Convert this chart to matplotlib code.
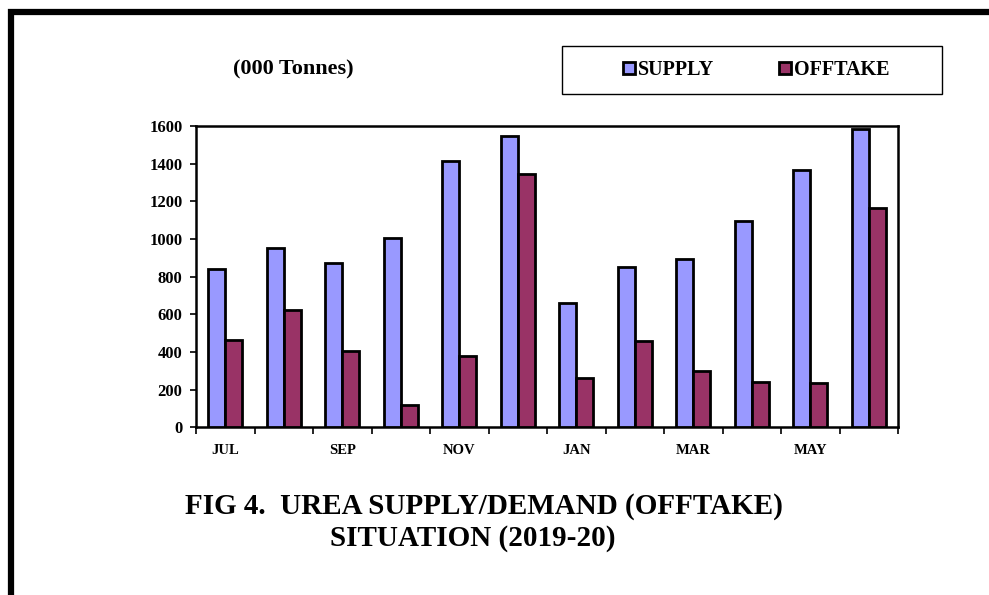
import matplotlib
matplotlib.use("Agg")
import matplotlib.pyplot as plt
from matplotlib.patches import Rectangle, Patch
import numpy as np

months = ["JUL", "AUG", "SEP", "OCT", "NOV", "DEC", "JAN", "FEB", "MAR", "APR", "MAY", "JUN"]
supply = [842, 950, 872, 1003, 1416, 1547, 658, 850, 892, 1094, 1365, 1582]
offtake = [463, 623, 405, 118, 376, 1343, 260, 458, 300, 239, 237, 1163]
shown_labels = ["JUL", "SEP", "NOV", "JAN", "MAR", "MAY"]

supply_color = "#9999FF"
offtake_color = "#993366"

plt.rcParams['font.family'] = ['Liberation Serif', 'DejaVu Serif']
plt.rcParams['font.weight'] = 'bold'

fig = plt.figure(figsize=(9.89, 5.95), dpi=100)
W, H = 989, 595

# outer frame
fig.patches.append(Rectangle((11 / W, -0.1), 1.2, (595 - 12) / H + 0.1, transform=fig.transFigure,
                             fill=False, edgecolor='black', linewidth=4.5, zorder=0))

ax = fig.add_axes([196 / W, (595 - 427.3) / H, (898 - 196) / W, (427.3 - 126) / H])
x = np.arange(len(months))
bw = 0.29
ax.bar(x + 0.5 - bw / 2, supply, bw, color=supply_color, edgecolor='black', linewidth=2, zorder=3)
ax.bar(x + 0.5 + bw / 2, offtake, bw, color=offtake_color, edgecolor='black', linewidth=2, zorder=3)

ax.set_xlim(0, len(months))
ax.set_ylim(0, 1600)
ax.set_yticks(range(0, 1601, 200))
ax.set_xticks(np.arange(0, len(months) + 1))
ax.set_xticklabels([])
ax.set_xticks(x + 0.5, minor=True)
ax.set_xticklabels([m if m in shown_labels else "" for m in months], minor=True)
ax.tick_params(axis='x', which='major', direction='out', length=5, width=1.2)
ax.tick_params(axis='x', which='minor', length=0, pad=12, labelsize=10.5)
ax.tick_params(axis='y', direction='out', length=4.3, width=1.2, labelsize=12, pad=5.5)
for lab in ax.get_xticklabels(minor=True) + ax.get_yticklabels():
    lab.set_fontweight('bold')
for s in ax.spines.values():
    s.set_linewidth(1.8)

fig.text(293 / W, 1 - 69 / H, "(000 Tonnes)", ha='center', va='center', fontsize=16, fontweight='bold')

# legend box
fig.patches.append(Rectangle((562 / W, (595 - 94) / H), (942 - 562) / W, 48 / H, transform=fig.transFigure,
                             fill=False, edgecolor='black', linewidth=1.0))
handles = [Patch(facecolor=supply_color, edgecolor='black', linewidth=2, label='SUPPLY'),
           Patch(facecolor=offtake_color, edgecolor='black', linewidth=2, label='OFFTAKE')]
fig.legend(handles=handles, loc='center', bbox_to_anchor=(756 / W, 1 - 70 / H), ncol=2, frameon=False,
           handlelength=0.6, handleheight=0.6, handletextpad=0.15, columnspacing=3.2,
           prop={'family': 'Liberation Serif', 'weight': 'bold', 'size': 14.5})

fig.text(484 / W, 1 - 507 / H, "FIG 4.  UREA SUPPLY/DEMAND (OFFTAKE)", ha='center', va='center',
         fontsize=21, fontweight='bold')
fig.text(473 / W, 1 - 538 / H, "SITUATION (2019-20)", ha='center', va='center',
         fontsize=21, fontweight='bold')

fig.savefig("out.png", dpi=100)
